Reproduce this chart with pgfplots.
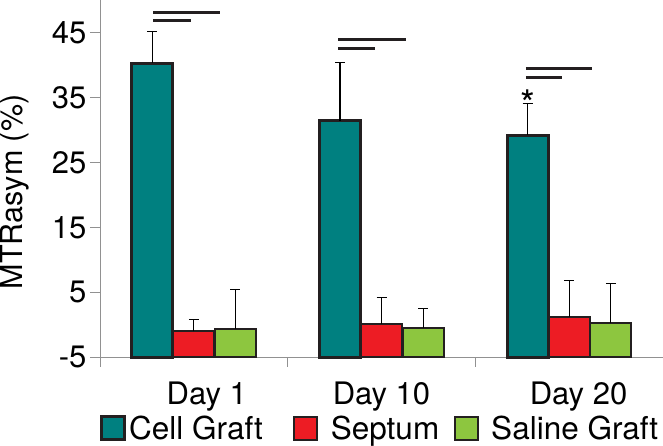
\documentclass[border=0pt]{standalone}
\usepackage{fontspec}
\setmainfont{TeX Gyre Heros}
\usepackage{pgfplots}
\usepackage{pgfplotstable}
\pgfplotsset{compat=1.18}
\definecolor{cellgraft}{RGB}{0,128,128}
\definecolor{septum}{RGB}{237,28,36}
\definecolor{saline}{RGB}{141,198,63}
\definecolor{edge}{RGB}{35,31,32}
\definecolor{axgray}{RGB}{145,145,145}
\pgfplotstableread{
x v e
0 40.3 4.9
1 31.4 9.0
2 29.2 4.9
}\cellgrafttab
\pgfplotstableread{
x v e
0 -0.97 1.82
1 0.17 4.06
2 1.22 5.66
}\septumtab
\pgfplotstableread{
x v e
0 -0.66 6.14
1 -0.46 2.97
2 0.28 6.07
}\salinetab
\pgfplotsset{
  sqlegend/.style={legend image code/.code={\draw[##1] (0pt,-11.5pt) rectangle (23pt,11.5pt);}},
  myerr/.style={error bars/.cd, y dir=plus, y explicit,
    error bar style={black, line width=1.1pt},
    error mark options={black, line width=1.1pt, mark size=5pt, rotate=90}},
}
\begin{document}
\begin{tikzpicture}
\begin{axis}[
  at={(0pt,0pt)}, anchor=south west,
  scale only axis, width=563pt, height=357.3pt,
  xmin=-0.5, xmax=2.5, ymin=0, ymax=55,
  clip=false,
  axis x line*=bottom, axis y line*=left,
  axis line style={axgray, line width=1pt},
  ybar, bar width=0.218,
  ytick={0,10,20,30,40,50}, yticklabels={-5,5,15,25,35,45},
  ytick style={axgray, line width=1pt},
  tick align=outside, major tick length=10pt,
  xtick={0.069,1,2.05}, xticklabels={Day 1, \raisebox{2pt}{Day 10}, \raisebox{4.5pt}{Day 20}},
  xtick style={draw=none},
  xticklabel style={yshift=-11pt},
  ticklabel style={font=\fontsize{31}{36}\selectfont},
  /pgf/number format/assume math mode=true,
  every axis y label/.style={at={(axis description cs:-0.1776,0.463)}, rotate=90, anchor=north, inner sep=0pt, font=\fontsize{30.5}{36}\selectfont},
  ylabel={MTRasym (\%)},
  legend columns=3,
  legend style={draw=none, fill=none, at={(axis description cs:0.0,-0.199)}, anchor=west,
    font=\fontsize{31.5}{36}\selectfont, inner xsep=0pt, inner ysep=0pt,
    nodes={inner xsep=0pt, inner ysep=0pt},
    /tikz/column 1/.style={column sep=3pt},
    /tikz/column 2/.style={column sep=30pt},
    /tikz/column 3/.style={column sep=13pt},
    /tikz/column 4/.style={column sep=15pt},
    /tikz/column 5/.style={column sep=12pt}},
]
\addplot[fill=cellgraft, draw=edge, line width=3pt, bar shift=-0.221, sqlegend, myerr]
  table[x=x, y expr=\thisrow{v}+5, y error=e] {\cellgrafttab};
\addlegendentry{Cell Graft}
\addplot[fill=septum, draw=edge, line width=2pt, bar shift=0, sqlegend, myerr]
  table[x=x, y expr=\thisrow{v}+5, y error=e] {\septumtab};
\addlegendentry{Septum}
\addplot[fill=saline, draw=edge, line width=2pt, bar shift=0.222, sqlegend, myerr]
  table[x=x, y expr=\thisrow{v}+5, y error=e] {\salinetab};
\addlegendentry{Saline Graft}
% axis extensions and group separators
\draw[axgray, line width=1pt] (axis cs:-0.5,0) -- ++(0pt,-10pt);
\draw[axgray, line width=1pt] (axis cs:0.5,0) -- ++(0pt,-10pt);
\draw[axgray, line width=1pt] (axis cs:1.5,0) -- ++(0pt,-10pt);
% significance bars
\draw[edge, line width=2.8pt] (axis cs:-0.215,53.1) -- (axis cs:0.139,53.1);
\draw[edge, line width=2.8pt] (axis cs:-0.215,51.85) -- (axis cs:-0.016,51.85);
\draw[edge, line width=2.8pt] (axis cs:0.769,48.86) -- (axis cs:1.129,48.86);
\draw[edge, line width=2.8pt] (axis cs:0.769,47.54) -- (axis cs:0.964,47.54);
\draw[edge, line width=2.8pt] (axis cs:1.769,44.45) -- (axis cs:2.122,44.45);
\draw[edge, line width=2.8pt] (axis cs:1.769,43.12) -- (axis cs:1.962,43.12);
\end{axis}
% significance asterisk above the Day 20 Cell Graft bar (x=1.769, y=41.2 in axis units)
\node[font=\fontsize{38}{40}\selectfont, inner sep=0pt, anchor=north] at (427.5pt,267.6pt) {*};
\pgfresetboundingbox
\useasboundingbox (-100pt,-88.7pt) rectangle (563pt,357.3pt);
\end{tikzpicture}
\end{document}
